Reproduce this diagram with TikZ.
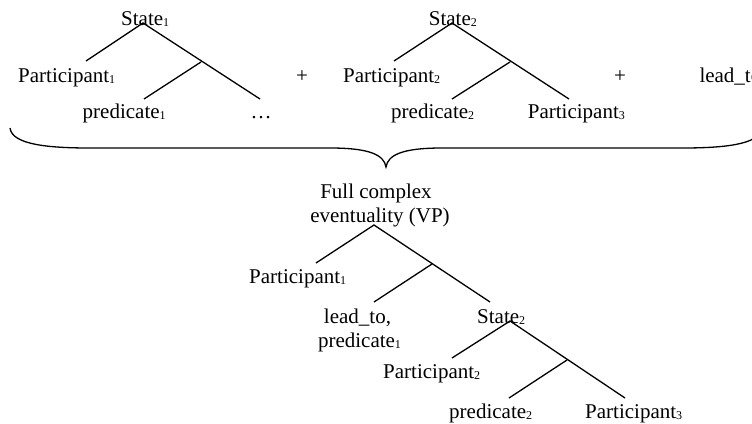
\documentclass[tikz,border=0pt]{standalone}
\usepackage{fontspec}
\setmainfont{Liberation Serif}
\newcommand\sbs[1]{\raisebox{-1pt}{\fontsize{12}{12}\selectfont #1}}
\begin{document}
\begin{tikzpicture}[x=1pt,y=-1pt,
  lbl/.style={inner sep=0pt,anchor=base west,font=\fontsize{21}{24}\selectfont},
  edge/.style={line width=1.3pt},
  bracestyle/.style={line width=1.3pt}]
\useasboundingbox (0,0) rectangle (752,423);
% ---------- top left tree ----------
\node[lbl] (s1) at (121,25) {State\sbs{1}};
\node[lbl] (p1) at (18,82) {Participant\sbs{1}};
\node[lbl] (pr1) at (82.5,118) {predicate\sbs{1}};
\node[lbl] (dots) at (250.5,118) {…};
\node[lbl] (plus1) at (296,82) {+};
\coordinate (a1) at (143,23);
\coordinate (a1l) at (86,61);
\coordinate (a1r) at (260,99);
\coordinate (b1) at (201,62);
\coordinate (b1l) at (144,99);
\draw[edge] (a1l) -- (a1) -- (a1r);
\draw[edge] (b1) -- (b1l);
% ---------- top right tree ----------
\node[lbl] (s2) at (428.7,25) {State\sbs{2}};
\node[lbl] (p2) at (343,82) {Participant\sbs{2}};
\node[lbl] (pr2) at (391,118) {predicate\sbs{2}};
\node[lbl] (p3) at (527.7,118) {Participant\sbs{3}};
\node[lbl] (plus2) at (614,82) {+};
\node[lbl] (lt) at (699.3,82) {lead\_to};
\coordinate (a2) at (452,23);
\coordinate (a2l) at (394,61);
\coordinate (a2r) at (569,99);
\coordinate (b2) at (510,62);
\coordinate (b2l) at (452,99);
\draw[edge] (a2l) -- (a2) -- (a2r);
\draw[edge] (b2) -- (b2l);
% ---------- brace ----------
\coordinate (brL) at (10,128);
\coordinate (brLh) at (90,148);
\coordinate (brCl) at (330,148);
\coordinate (brT) at (386,167);
\coordinate (brCr) at (442,148);
\coordinate (brRh) at (682,148);
\coordinate (brR) at (762,128);
\draw[bracestyle] (brL) .. controls (12,145) and (50,148) .. (brLh) -- (brCl)
  .. controls (370,148) and (384,155) .. (brT)
  .. controls (388,155) and (402,148) .. (brCr) -- (brRh)
  .. controls (722,148) and (760,145) .. (brR);
% ---------- lower tree ----------
\node[lbl,anchor=base] (fc1) at (376,198) {Full complex};
\node[lbl,anchor=base] (fc2) at (380,222) {eventuality (VP)};
\node[lbl] (lp1) at (249,283) {Participant\sbs{1}};
\node[lbl,anchor=base] (lt1) at (357.5,323) {lead\_to,};
\node[lbl,anchor=base] (lpr1) at (359.5,347) {predicate\sbs{1}};
\node[lbl] (ls2) at (477,323) {State\sbs{2}};
\node[lbl] (lp2) at (383,378) {Participant\sbs{2}};
\node[lbl] (lpr2) at (449,418) {predicate\sbs{2}};
\node[lbl] (lp3) at (585,418) {Participant\sbs{3}};
\coordinate (A) at (374,225);
\coordinate (Al) at (316,263);
\coordinate (Ar) at (490,302);
\coordinate (B) at (432,264);
\coordinate (Bl) at (374,302);
\draw[edge] (Al) -- (A) -- (Ar);
\draw[edge] (B) -- (Bl);
\coordinate (C) at (510,321);
\coordinate (Cl) at (452,358);
\coordinate (Cr) at (625,398);
\coordinate (D) at (567,360);
\coordinate (Dl) at (509,398);
\draw[edge] (Cl) -- (C) -- (Cr);
\draw[edge] (D) -- (Dl);
\end{tikzpicture}
\end{document}
